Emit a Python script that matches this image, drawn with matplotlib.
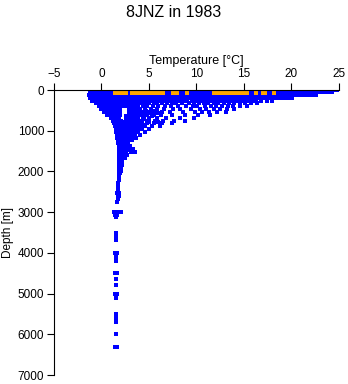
import matplotlib
matplotlib.use("Agg")
import matplotlib.pyplot as plt

plt.rcParams['font.family'] = ['Liberation Sans', 'DejaVu Sans']

# blue: all observations, grouped by depth level [m] -> temperatures [degC]
depth_levels = [0, 60, 120, 190, 260, 330, 400, 470, 540, 610, 680, 750,
                820, 890, 960, 1030, 1100, 1170, 1240, 1310, 1380, 1450,
                1520, 1600, 1680, 1760, 1830, 1900, 1980, 2050, 2130, 2200,
                2280, 2360, 2450, 2520, 2600, 2680, 2760, 3000, 3060, 3130,
                3500, 3600, 3680, 4000, 4100, 4200, 4500, 4650, 4800, 5000,
                5100, 5500, 5600, 5700, 6000, 6300]
temp_levels = [
    [-0.5, -0.2, 0.2, 0.5, 0.8, 1.1, 1.4, 1.8, 2.1, 2.4, 2.7, 3.0, 3.4, 3.7, 4.0, 4.3, 4.6, 4.9,
     5.3, 5.6, 5.9, 6.2, 6.5, 6.9, 7.2, 7.5, 7.8, 8.1, 8.5, 8.8, 9.1, 9.4, 9.7, 10.1, 10.4, 10.7,
     11.0, 11.3, 11.7, 12.0, 12.3, 12.6, 12.9, 13.3, 13.6, 13.9, 14.2, 14.5, 14.9, 15.2, 15.5,
     15.8, 16.1, 16.5, 16.8, 17.1, 17.4, 17.7, 18.1, 18.4, 18.7, 19.0, 19.3, 19.7, 20.0, 20.3,
     20.6, 20.9, 21.3, 21.6, 21.9, 22.2, 22.5, 22.9, 23.2, 23.5, 23.8, 24.1, 24.4, 24.8],
    [-1.2, -0.9, -0.6, -0.3, 0.0, 0.3, 0.7, 1.0, 1.3, 1.6, 1.9, 2.3, 2.6, 2.9, 3.2, 3.5, 3.9,
     4.2, 4.5, 4.8, 5.1, 5.5, 5.8, 6.1, 6.4, 6.7, 7.1, 7.4, 7.7, 8.0, 8.3, 8.7, 9.0, 9.3, 9.6,
     9.9, 10.3, 10.6, 10.9, 11.2, 11.5, 11.9, 12.2, 12.5, 12.8, 13.1, 13.5, 13.8, 14.1, 14.4,
     14.7, 15.1, 15.4, 15.7, 16.0, 16.3, 16.7, 17.0, 17.3, 17.6, 17.9, 18.3, 18.6, 18.9, 19.2,
     19.5, 19.9, 20.2, 20.5, 20.8, 21.1, 21.5, 21.8, 22.1, 22.4, 22.7, 23.1, 23.4, 23.7, 24.0, 24.3],
    [-1.3, -1.0, -0.7, -0.4, -0.1, 0.2, 0.5, 0.9, 1.2, 1.5, 1.8, 2.1, 2.5, 2.8, 3.1, 3.4, 3.7,
     4.1, 4.4, 4.7, 5.0, 5.3, 5.7, 6.0, 6.3, 6.6, 6.9, 7.3, 7.6, 7.9, 8.2, 8.5, 8.9, 9.2, 9.5,
     9.8, 10.1, 10.5, 10.8, 11.1, 11.4, 11.7, 12.1, 12.4, 12.7, 13.0, 13.3, 13.7, 14.0, 14.3,
     14.6, 14.9, 15.3, 15.6, 15.9, 16.2, 16.5, 16.9, 17.2, 17.5, 17.8, 18.1, 18.5, 18.8, 19.1,
     19.4, 19.7, 20.1, 20.4, 20.7, 21.0, 21.4, 21.8, 22.2, 22.6],
    [-1.2, -0.9, -0.5, -0.2, 0.1, 0.4, 0.8, 1.1, 1.4, 1.7, 2.0, 2.4, 2.7, 3.0, 3.3, 3.6, 4.0,
     4.3, 4.6, 4.9, 5.2, 5.6, 5.9, 6.2, 6.5, 6.8, 7.2, 7.5, 7.8, 8.1, 8.4, 8.8, 9.1, 9.4, 9.7,
     10.0, 10.4, 10.7, 11.0, 11.3, 11.6, 12.0, 12.3, 12.6, 12.9, 13.2, 13.6, 13.9, 14.2, 14.5,
     14.8, 15.2, 15.5, 15.8, 16.1, 16.4, 16.8, 17.1, 17.4, 17.7, 18.0, 18.4, 18.8, 19.2, 19.6, 20.1],
    [-1.0, -0.6, -0.2, 0.1, 0.5, 0.8, 1.1, 1.4, 1.7, 2.1, 2.4, 2.7, 3.0, 3.3, 3.7, 4.0, 4.3,
     4.6, 4.9, 5.3, 5.6, 6.0, 6.4, 6.8, 7.1, 7.5, 8.0, 8.3, 8.6, 9.0, 9.5, 9.8, 10.2, 10.6,
     10.9, 11.3, 11.7, 12.0, 12.4, 12.8, 13.1, 13.5, 13.9, 14.2, 14.6, 15.0, 15.4, 15.8, 16.3,
     16.8, 17.4, 18.0],
    [-0.6, -0.2, 0.2, 0.5, 0.9, 1.2, 1.5, 1.8, 2.2, 2.5, 2.8, 3.1, 3.5, 3.8, 4.2, 4.6, 5.0,
     5.5, 5.9, 6.4, 6.9, 7.4, 7.8, 8.5, 9.2, 9.7, 10.3, 10.8, 11.2, 11.8, 12.3, 12.9, 13.4,
     14.0, 14.6, 15.1, 15.7, 16.4],
    [-0.3, 0.1, 0.4, 0.8, 1.1, 1.4, 1.8, 2.1, 2.4, 2.8, 3.1, 3.5, 3.9, 4.4, 4.8, 5.4, 6.0,
     6.7, 7.3, 8.1, 8.9, 9.6, 10.1, 10.9, 11.5, 12.1, 12.7, 13.3, 13.9, 14.6, 15.3],
    [0.0, 0.4, 0.7, 1.1, 1.4, 1.7, 2.0, 2.9, 3.2, 3.6, 4.1, 4.6, 5.2, 5.8, 6.6, 7.5, 8.3,
     9.4, 10.4, 11.0, 11.8, 12.5, 13.2, 14.0],
    [0.3, 0.7, 1.0, 1.3, 1.7, 2.0, 2.9, 3.3, 3.8, 4.3, 4.9, 5.6, 6.4, 7.2, 8.6, 9.9, 10.6,
     11.3, 12.2, 13.1],
    [0.6, 1.0, 1.3, 1.6, 2.0, 2.9, 3.2, 3.7, 4.2, 4.8, 5.5, 6.3, 7.4, 8.8, 10.2, 11.4],
    [1.0, 1.3, 1.6, 1.9, 2.6, 3.0, 3.4, 3.9, 4.4, 5.0, 5.8, 6.8, 8.3, 9.7],
    [1.2, 1.5, 1.8, 2.1, 2.9, 3.4, 3.8, 4.3, 4.9, 5.6, 6.5, 7.6, 8.8],
    [1.3, 1.6, 1.9, 2.2, 2.5, 2.9, 3.3, 3.7, 4.2, 4.8, 5.5, 6.4, 7.4],
    [1.4, 1.7, 2.0, 2.3, 2.7, 3.1, 3.5, 4.0, 4.6, 5.3, 6.2],
    [1.5, 1.8, 2.1, 2.4, 2.8, 3.2, 3.7, 4.3, 5.0],
    [1.5, 1.8, 2.1, 2.5, 2.9, 3.3, 3.8, 4.6],
    [1.6, 1.9, 2.2, 2.6, 3.0, 3.5, 4.1],
    [1.6, 1.9, 2.3, 2.7, 3.1, 3.6],
    [1.7, 2.0, 2.3, 2.7, 3.2],
    [1.7, 2.0, 2.4, 2.8],
    [1.8, 2.1, 2.5, 3.0],
    [1.8, 2.1, 2.5, 2.9, 3.3],
    [1.9, 2.2, 2.6, 3.1, 3.5],
    [1.9, 2.3, 2.7],
    [1.9, 2.2, 2.5],
    [1.9, 2.2],
    [1.9, 2.2],
    [1.8, 2.1],
    [1.8, 2.1],
    [1.8, 2.0],
    [1.8],
    [1.8],
    [1.7],
    [1.7],
    [1.7],
    [1.6, 1.8],
    [1.7, 1.8],
    [1.7],
    [1.6],
    [1.3, 1.5, 1.7, 1.9, 2.1],
    [1.4, 1.6],
    [1.5],
    [1.5],
    [1.5],
    [1.5],
    [1.4, 1.6],
    [1.5],
    [1.5],
    [1.4, 1.6],
    [1.5],
    [1.5],
    [1.4, 1.6],
    [1.5],
    [1.5],
    [1.5],
    [1.5],
    [1.5],
    [1.4, 1.6],
]

# extra casts through the cold core (500-1600 m)
core_levels = [505, 575, 645, 715, 785, 855, 925, 995, 1065, 1135, 1205, 1275,
               1345, 1415, 1485, 1560]
core_temps = [
    [0.5, 0.9, 1.5, 1.9, 3.0, 3.5, 4.0, 4.7, 5.4],
    [0.8, 1.2, 1.5, 1.8, 3.0, 3.5, 4.5, 5.2, 6.0],
    [1.1, 1.4, 1.8, 2.6, 3.1, 3.6, 4.4, 5.3],
    [1.2, 1.6, 1.9, 2.9, 3.6, 4.5],
    [1.4, 1.7, 2.0, 2.4, 2.8, 3.3, 4.0, 5.0, 6.0],
    [1.5, 1.8, 2.2, 2.6, 3.0, 3.5, 4.4],
    [1.5, 1.9, 2.2, 2.6, 3.0, 3.4, 3.9],
    [1.6, 1.9, 2.3, 2.7, 3.1, 3.6],
    [1.7, 2.0, 2.4, 2.8, 3.3],
    [1.7, 2.0, 2.4, 2.8, 3.2],
    [1.8, 2.1, 2.5, 2.9],
    [1.8, 2.1, 2.5],
    [1.8, 2.2, 2.6],
    [1.9, 2.2, 2.7],
    [1.9, 2.3, 2.7, 3.1],
    [2.0, 2.4],
]

# orange: the highlighted near-surface observations
orange_temp = [1.4, 1.7, 2.0, 2.3, 2.6, 3.2, 3.5, 3.8, 4.1, 4.4, 4.7, 5.0, 5.3, 5.6, 5.9,
               6.2, 6.5, 7.5, 8.0, 9.0, 11.8, 12.1, 12.4, 12.7, 13.0, 13.3, 13.6, 13.9,
               14.2, 14.5, 14.8, 15.1, 15.3, 16.3, 17.0, 17.2, 18.2]
orange_depth = [70] * len(orange_temp)

blue_t, blue_d = [], []
for d, ts in zip(depth_levels + core_levels, temp_levels + core_temps):
    blue_t += ts
    blue_d += [d] * len(ts)

fig = plt.figure(figsize=(3.48, 3.84), dpi=100)
ax = fig.add_axes([0.155, 0.0234, 0.819, 0.7422])

ax.scatter(blue_t, blue_d, s=7, marker='s', color='#0000ff', linewidths=0)
ax.scatter(orange_temp, orange_depth, s=7, marker='s', color='#ffa500', linewidths=0)

ax.set_xlim(-5, 25)
ax.set_ylim(7000, 0)
ax.set_xticks([-5, 0, 5, 10, 15, 20, 25])
ax.set_yticks([0, 1000, 2000, 3000, 4000, 5000, 6000, 7000])
ax.xaxis.tick_top()
ax.xaxis.set_label_position('top')
ax.spines['right'].set_visible(False)
ax.spines['bottom'].set_visible(False)
ax.tick_params(labelsize=8.5, length=5, width=0.8, pad=2)
ax.set_xlabel('Temperature [°C]', fontsize=9, labelpad=3)
ax.set_ylabel('Depth [m]', fontsize=8.5, labelpad=3)
fig.suptitle('8JNZ in 1983', fontsize=11.5, y=0.988)

plt.savefig('out.png')
